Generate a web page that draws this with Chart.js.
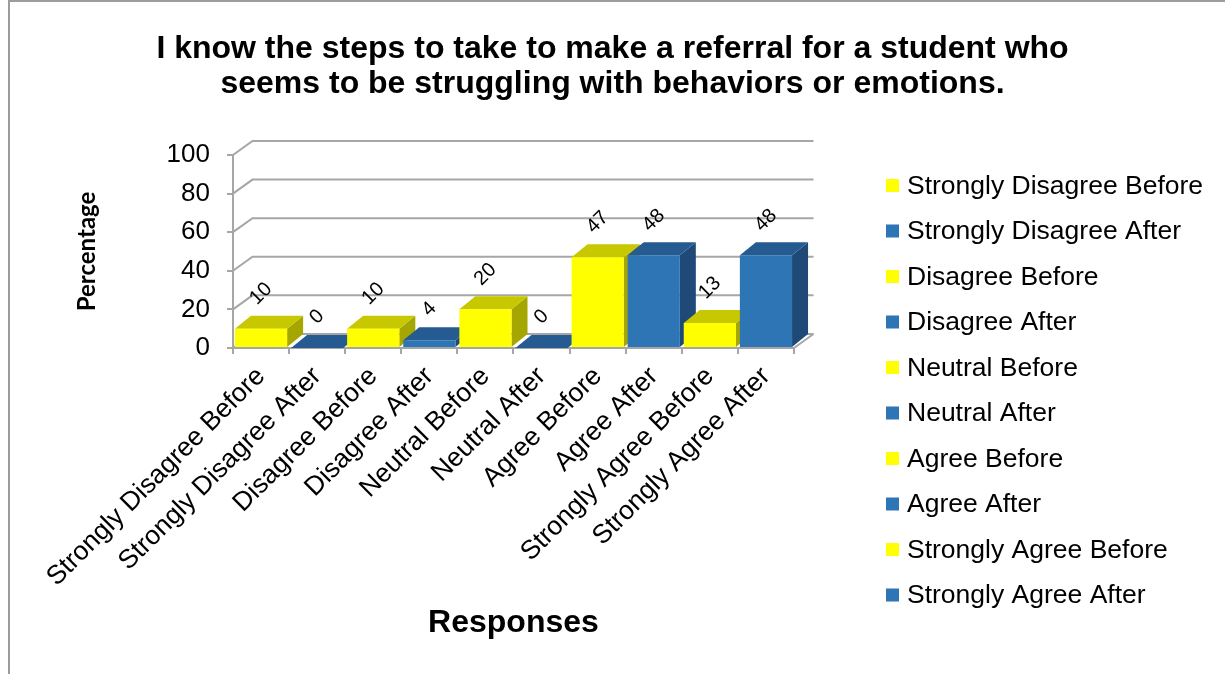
<!DOCTYPE html>
<html>
<head>
<meta charset="utf-8">
<title>Referral steps – before and after</title>
<script src="https://cdn.jsdelivr.net/npm/chart.js@4.4.1/dist/chart.umd.min.js"></script>
<style>
  html, body { margin: 0; padding: 0; background: #fff; }
  #wrap { position: relative; width: 1225px; height: 674px; }
</style>
</head>
<body>
<div id="wrap"><canvas id="referralChart"></canvas></div>
<script>
const categories = [
    'Strongly Disagree Before', 'Strongly Disagree After',
    'Disagree Before', 'Disagree After',
    'Neutral Before', 'Neutral After',
    'Agree Before', 'Agree After',
    'Strongly Agree Before', 'Strongly Agree After'
];
const percentages = [10, 0, 10, 4, 20, 0, 47, 48, 13, 48];
const yTicks = [0, 20, 40, 60, 80, 100];
const chartTitle = [
    'I know the steps to take to make a referral for a student who',
    'seems to be struggling with behaviors or emotions.'
];

const FONT = "'Liberation Sans', Arial, Helvetica, sans-serif";
const GRID_COLOR = '#a6a6a6';

// front / top / side shades for the two groups
const palette = {
    before: { front: '#ffff00', top: '#c8c800', side: '#a6a600' },
    after: { front: '#2e75b6', top: '#255b91', side: '#1f4a78' }
};

function shadeFor(label) {
    return label.endsWith('Before') ? palette.before : palette.after;
}

// depth offsets for the bars and for the back wall
const BAR_DX = 16, BAR_DY = -13;
const WALL_DX = 19.5, WALL_DY = -14;
const LEGEND_WIDTH = 431;

function drawLegend(ctx, box) {
    ctx.save();
    ctx.font = `26.5px ${FONT}`;
    ctx.textAlign = 'left';
    ctx.textBaseline = 'middle';
    categories.forEach((label, i) => {
        const cy = 185.5 + i * 45.5;
        ctx.fillStyle = shadeFor(label).front;
        ctx.fillRect(box.left + 92, cy - 6.5, 13, 13);
        ctx.fillStyle = '#000';
        ctx.fillText(label, box.left + 113, cy + 1);
    });
    ctx.restore();
}

// Legend as its own layout box on the right, so the plot keeps its width
const sideLegend = {
    id: 'sideLegend',
    start(chart) {
        const box = {
            position: 'right',
            fullSize: true,
            weight: 0,
            options: {},
            left: 0, top: 0, right: 0, bottom: 0, width: 0, height: 0,
            isHorizontal() { return false; },
            update(maxWidth, maxHeight) {
                this.width = LEGEND_WIDTH;
                this.height = maxHeight;
            },
            draw() { drawLegend(chart.ctx, this); }
        };
        chart.sideLegendBox = box;
        Chart.layouts.addBox(chart, box);
    },
    stop(chart) {
        Chart.layouts.removeBox(chart, chart.sideLegendBox);
    }
};

// Back wall, floor and the top/side faces of each column
const depthPlugin = {
    id: 'depth3d',
    beforeDraw(chart) {
        const { ctx, width, height } = chart;
        ctx.save();
        ctx.fillStyle = '#9c9c9c';
        ctx.fillRect(8, 0, 2, height);
        ctx.fillRect(8, 0, width - 8, 2);
        ctx.restore();
    },
    beforeDatasetsDraw(chart) {
        const { ctx, scales: { x, y } } = chart;
        const left = x.left, right = x.right;
        ctx.save();
        ctx.strokeStyle = GRID_COLOR;
        ctx.lineWidth = 2;
        yTicks.forEach(v => {
            const py = y.getPixelForValue(v);
            ctx.beginPath();
            ctx.moveTo(left, py);
            ctx.lineTo(left + WALL_DX, py + WALL_DY);
            ctx.lineTo(right + WALL_DX, py + WALL_DY);
            ctx.stroke();
        });
        const floor = y.getPixelForValue(0);
        ctx.beginPath();
        ctx.moveTo(right, floor);
        ctx.lineTo(right + WALL_DX, floor + WALL_DY);
        ctx.stroke();

        chart.getDatasetMeta(0).data.forEach((bar, i) => {
            const l = bar.x - bar.width / 2;
            const r = bar.x + bar.width / 2;
            const c = shadeFor(categories[i]);
            ctx.fillStyle = c.side;
            ctx.beginPath();
            ctx.moveTo(r, bar.y);
            ctx.lineTo(r + BAR_DX, bar.y + BAR_DY);
            ctx.lineTo(r + BAR_DX, bar.base + BAR_DY);
            ctx.lineTo(r, bar.base);
            ctx.closePath();
            ctx.fill();
            ctx.fillStyle = c.top;
            ctx.beginPath();
            ctx.moveTo(l, bar.y);
            ctx.lineTo(l + BAR_DX, bar.y + BAR_DY);
            ctx.lineTo(r + BAR_DX, bar.y + BAR_DY);
            ctx.lineTo(r, bar.y);
            ctx.closePath();
            ctx.fill();
        });
        ctx.restore();
    },
    afterDatasetsDraw(chart) {
        const { ctx } = chart;
        ctx.save();
        ctx.font = `20px ${FONT}`;
        ctx.fillStyle = '#000';
        ctx.textAlign = 'center';
        ctx.textBaseline = 'middle';
        chart.getDatasetMeta(0).data.forEach((bar, i) => {
            const text = String(percentages[i]);
            const w = ctx.measureText(text).width;
            // rotated label sits just above the column, centred on it
            const lift = 22 + Math.SQRT1_2 * (w + 14.3) / 2;
            ctx.save();
            ctx.translate(bar.x, bar.y - lift);
            ctx.rotate(-Math.PI / 4);
            ctx.fillText(text, 0, 0);
            ctx.restore();
        });
        ctx.restore();
    }
};

new Chart(document.getElementById('referralChart'), {
    type: 'bar',
    data: {
        labels: categories,
        datasets: [{
            data: percentages,
            backgroundColor: categories.map(c => shadeFor(c).front),
            borderWidth: 0,
            barPercentage: 0.93,
            categoryPercentage: 1
        }]
    },
    options: {
        responsive: true,
        maintainAspectRatio: false,
        animation: false,
        layout: { padding: 0 },
        plugins: {
            legend: { display: false },
            tooltip: { enabled: false },
            title: {
                display: true,
                text: chartTitle,
                color: '#000',
                font: { family: FONT, size: 32, weight: 'bold', lineHeight: 1.1 },
                padding: { top: 31.5, bottom: 53.1 }
            }
        },
        scales: {
            x: {
                grid: {
                    offset: true,
                    drawOnChartArea: false,
                    tickLength: 6,
                    color: GRID_COLOR,
                    lineWidth: 2
                },
                border: { color: GRID_COLOR, width: 2 },
                ticks: {
                    color: '#000',
                    font: { family: FONT, size: 26.5 },
                    minRotation: 45,
                    maxRotation: 45,
                    autoSkip: false,
                    padding: 7
                },
                title: {
                    display: true,
                    text: 'Responses',
                    color: '#000',
                    font: { family: FONT, size: 32, weight: 'bold', lineHeight: 1.2 },
                    padding: { top: 4, bottom: 31.8 }
                }
            },
            y: {
                min: 0,
                max: 100,
                ticks: {
                    stepSize: 20,
                    color: '#000',
                    font: { family: FONT, size: 26 },
                    padding: 17
                },
                grid: {
                    drawOnChartArea: false,
                    tickLength: 6,
                    color: GRID_COLOR,
                    lineWidth: 2
                },
                border: { color: GRID_COLOR, width: 2 },
                title: {
                    display: true,
                    text: 'Percentage',
                    color: '#000',
                    font: { family: "Lato, 'Liberation Sans', sans-serif", size: 24, weight: 'bold', lineHeight: 1.2 },
                    padding: { top: 72.6, bottom: 48.2 }
                }
            }
        }
    },
    plugins: [sideLegend, depthPlugin]
});
</script>
</body>
</html>
